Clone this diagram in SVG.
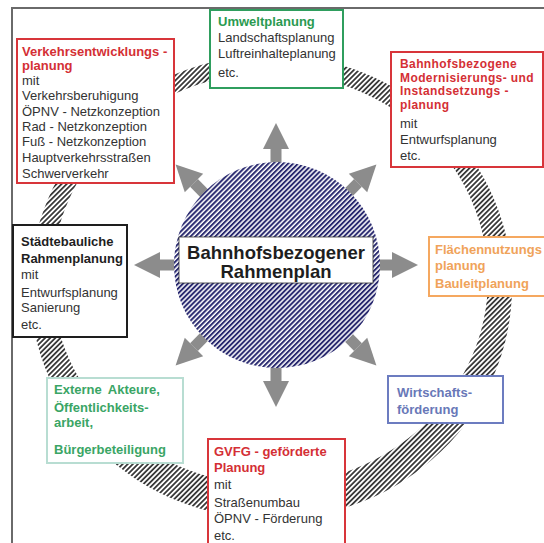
<svg xmlns="http://www.w3.org/2000/svg" xmlns:xlink="http://www.w3.org/1999/xlink" width="544" height="543" viewBox="0 0 544 543">
<style>
text{font-family:"Liberation Sans",Arial,sans-serif;font-size:13px;fill:#333}
.b{font-weight:bold}
.red{fill:#d42f35}
.grn{fill:#2a9a50}
.org{fill:#f0a35a}
.blu{fill:#6878b8}
.ext{fill:#3aa565}
.blk{fill:#1e1e1e}
.tight{font-size:12px;letter-spacing:0.4px}
.box{fill:#fff;stroke-width:2}
.arrow{fill:#8c8c8c}
</style>
<defs>
<pattern id="ringHatch" patternUnits="userSpaceOnUse" width="3.6" height="10" patternTransform="rotate(45)">
<rect width="3.6" height="10" fill="#fff"/>
<rect width="1.8" height="10" fill="#3a3a3a"/>
</pattern>
<pattern id="circHatch" patternUnits="userSpaceOnUse" width="3.5" height="10" patternTransform="rotate(45)">
<rect width="3.5" height="10" fill="#fff"/>
<rect width="2" height="10" fill="#2a2a70"/>
</pattern>
<g id="arr">
<rect x="376" y="259.5" width="16" height="11"/>
<polygon points="392,252 418,265 392,278"/>
</g>
</defs>
<rect width="544" height="543" fill="#fff"/>
<path d="M12 543V8H544" fill="none" stroke="#6a6a6a" stroke-width="2"/>
<g id="ring">
<path d="M30 287a241 232 0 1 0 482 0a241 232 0 1 0 -482 0Z M52 279a218 206 0 1 0 436 0a218 206 0 1 0 -436 0Z" fill="url(#ringHatch)" fill-rule="evenodd"/>
</g>
<g id="connectors" class="arrow">
<use xlink:href="#arr" href="#arr"/>
<use xlink:href="#arr" href="#arr" transform="rotate(45 276 265)"/>
<use xlink:href="#arr" href="#arr" transform="rotate(90 276 265)"/>
<use xlink:href="#arr" href="#arr" transform="rotate(135 276 265)"/>
<use xlink:href="#arr" href="#arr" transform="rotate(180 276 265)"/>
<use xlink:href="#arr" href="#arr" transform="rotate(225 276 265)"/>
<use xlink:href="#arr" href="#arr" transform="rotate(270 276 265)"/>
<use xlink:href="#arr" href="#arr" transform="rotate(315 276 265)"/>
</g>
<g id="center">
<circle cx="277" cy="265" r="103" fill="url(#circHatch)"/>
<rect x="179" y="237" width="194" height="46" fill="#fff" stroke="#333" stroke-width="0.8"/>
<text x="276" y="259" text-anchor="middle" class="b blk" style="font-size:18.5px">Bahnhofsbezogener</text>
<text x="276" y="278" text-anchor="middle" class="b blk" style="font-size:18.5px">Rahmenplan</text>
</g>
<g id="verkehr">
<rect x="17" y="39" width="157" height="144" class="box" stroke="#d8353a"/>
<text x="22" y="56" class="b red">Verkehrsentwicklungs -</text>
<text x="22" y="70" class="b red">planung</text>
<text x="22" y="85">mit</text>
<text x="22" y="100">Verkehrsberuhigung</text>
<text x="22" y="116">ÖPNV - Netzkonzeption</text>
<text x="22" y="131">Rad - Netzkonzeption</text>
<text x="22" y="146">Fuß - Netzkonzeption</text>
<text x="22" y="162">Hauptverkehrsstraßen</text>
<text x="22" y="178">Schwerverkehr</text>
</g>
<g id="umwelt">
<rect x="210" y="10" width="133" height="78" class="box" stroke="#2f9e5e"/>
<text x="218" y="26" class="b grn">Umweltplanung</text>
<text x="218" y="42">Landschaftsplanung</text>
<text x="218" y="58">Luftreinhalteplanung</text>
<text x="218" y="77">etc.</text>
</g>
<g id="bahnhof">
<rect x="391" y="52" width="152" height="115" class="box" stroke="#d8353a"/>
<text x="400" y="68" class="b red tight">Bahnhofsbezogene</text>
<text x="400" y="81.5" class="b red tight">Modernisierungs- und</text>
<text x="400" y="95" class="b red tight">Instandsetzungs -</text>
<text x="400" y="108.5" class="b red tight">planung</text>
<text x="400" y="128">mit</text>
<text x="400" y="144">Entwurfsplanung</text>
<text x="400" y="160">etc.</text>
</g>
<g id="staedtebau">
<rect x="13" y="225" width="114" height="112" class="box" stroke="#1e1e1e"/>
<text x="21" y="246" class="b blk">Städtebauliche</text>
<text x="21" y="263" class="b blk">Rahmenplanung</text>
<text x="21" y="279">mit</text>
<text x="21" y="297">Entwurfsplanung</text>
<text x="21" y="312">Sanierung</text>
<text x="21" y="329">etc.</text>
</g>
<g id="flaechen">
<rect x="429" y="237" width="116" height="59" class="box" stroke="#f5a860"/>
<text x="435" y="254" class="b org">Flächennutzungs</text>
<text x="435" y="270" class="b org">planung</text>
<text x="435" y="288" class="b org">Bauleitplanung</text>
</g>
<g id="wirtschaft">
<rect x="388" y="376" width="115" height="47" class="box" stroke="#6c7cc0"/>
<text x="397" y="397" class="b blu">Wirtschafts-</text>
<text x="397" y="414" class="b blu">förderung</text>
</g>
<g id="extern">
<rect x="47" y="378" width="136" height="85" class="box" stroke="#b8ddd2"/>
<text x="54" y="394" class="b ext" style="word-spacing:3px">Externe Akteure,</text>
<text x="54" y="412" class="b ext">Öffentlichkeits-</text>
<text x="54" y="427" class="b ext">arbeit,</text>
<text x="54" y="454" class="b ext">Bürgerbeteiligung</text>
</g>
<g id="gvfg">
<rect x="208" y="439" width="137" height="112" class="box" stroke="#d8353a"/>
<text x="214" y="456" class="b red">GVFG - geförderte</text>
<text x="214" y="472" class="b red">Planung</text>
<text x="214" y="489">mit</text>
<text x="214" y="507">Straßenumbau</text>
<text x="214" y="523">ÖPNV - Förderung</text>
<text x="214" y="540">etc.</text>
</g>
</svg>
